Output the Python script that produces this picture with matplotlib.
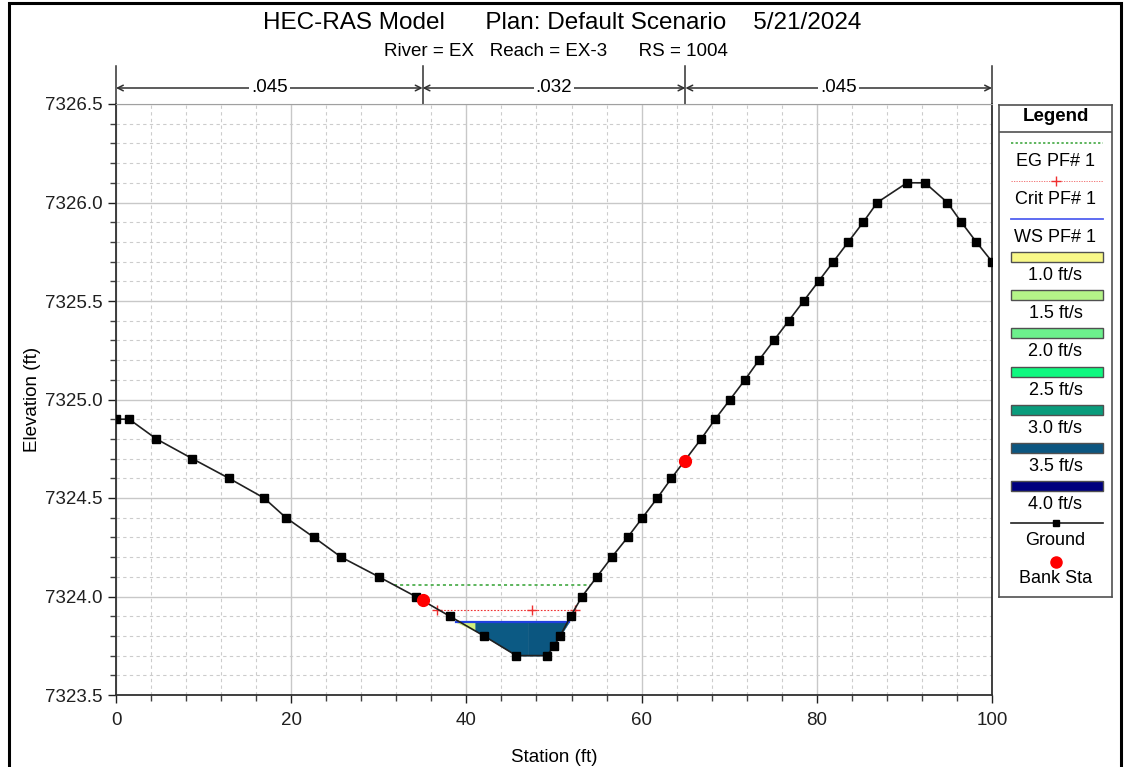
import numpy as np
import matplotlib
matplotlib.use("Agg")
import matplotlib.pyplot as plt
from matplotlib.patches import Rectangle
from matplotlib.ticker import MultipleLocator, FormatStrFormatter
import matplotlib.transforms as mtransforms

plt.rcParams['font.family'] = ['Liberation Sans', 'DejaVu Sans']

# --- data ---
ground_sta = [0, 1.5, 4.6, 8.7, 12.9, 16.9, 19.4, 22.6, 25.7, 30.0, 34.2, 38.1, 42.0,
              45.7, 49.2, 50.0, 50.7, 51.9, 53.2, 54.9, 56.6, 58.4, 60.1, 61.8, 63.4,
              66.8, 68.4, 70.1, 71.8, 73.4, 75.1, 76.8, 78.5, 80.2, 81.9, 83.6, 85.3,
              86.9, 90.3, 92.35, 94.9, 96.5, 98.2, 100.0]
ground_elev = [7324.9, 7324.9, 7324.8, 7324.7, 7324.6, 7324.5, 7324.4, 7324.3, 7324.2,
               7324.1, 7324.0, 7323.9, 7323.8, 7323.7, 7323.7, 7323.75, 7323.8, 7323.9,
               7324.0, 7324.1, 7324.2, 7324.3, 7324.4, 7324.5, 7324.6, 7324.8, 7324.9,
               7325.0, 7325.1, 7325.2, 7325.3, 7325.4, 7325.5, 7325.6, 7325.7, 7325.8,
               7325.9, 7326.0, 7326.1, 7326.1, 7326.0, 7325.9, 7325.8, 7325.7]

bank_sta = [35.0, 65.0]
bank_elev = [7323.98, 7324.69]

ws_elev = 7323.87
ws_extent = [38.8, 51.7]
crit_elev = 7323.93
crit_sta = [36.6, 47.5, 52.4]
eg_elev = 7324.06
eg_extent = [31.7, 54.2]

# velocity slices across the wetted section
vel_breaks = [38.8, 41.0, 47.0, 51.7]
vel_slice_colors = ['#d2f07c', '#0c5a84', '#0b5680']

n_breaks = [0, 35, 65, 100]
n_values = ['.045', '.032', '.045']

legend_vel_labels = ['1.0 ft/s', '1.5 ft/s', '2.0 ft/s', '2.5 ft/s', '3.0 ft/s', '3.5 ft/s', '4.0 ft/s']
legend_vel_colors = ['#f8f888', '#b4f488', '#6cf08c', '#10f880', '#0a9c7c', '#0c5680', '#00007e']

W, H = 1126, 767
fig = plt.figure(figsize=(W / 100, H / 100), dpi=100)
ax = fig.add_axes([116 / W, 1 - 695 / H, (992 - 116) / W, (695 - 104) / H])

gs = np.array(ground_sta)
ge = np.array(ground_elev)

# water fill, slice by slice
for i in range(len(vel_breaks) - 1):
    a, b = vel_breaks[i], vel_breaks[i + 1]
    inner = (gs > a) & (gs < b)
    xs = np.concatenate([[a], gs[inner], [b]])
    ys = np.concatenate([[np.interp(a, gs, ge)], ge[inner], [np.interp(b, gs, ge)]])
    ys = np.minimum(ys, ws_elev)
    ax.fill_between(xs, ys, ws_elev, color=vel_slice_colors[i], lw=0.3, zorder=2)

ax.plot(ws_extent, [ws_elev, ws_elev], color='#2040e0', lw=1.6, zorder=3)
ax.plot(eg_extent, [eg_elev, eg_elev], color='#30a030', lw=1.1, ls=(0, (2, 2)), zorder=3)
ax.plot(crit_sta, [crit_elev] * len(crit_sta), color='#f03030', lw=0.8, ls=(0, (1.5, 1.5)),
        marker='+', ms=7, mew=1, zorder=3)
ax.plot(ground_sta, ground_elev, color='#202020', lw=1.2, marker='s', ms=5.5,
        mfc='black', mec='black', zorder=4)
ax.plot(bank_sta, bank_elev, 'o', color='#ff0000', ms=8.5, zorder=5)

ax.set_xlim(0, 100)
ax.set_ylim(7323.5, 7326.5)
ax.xaxis.set_major_locator(MultipleLocator(20))
ax.xaxis.set_minor_locator(MultipleLocator(4))
ax.yaxis.set_major_locator(MultipleLocator(0.5))
ax.yaxis.set_minor_locator(MultipleLocator(0.1))
ax.yaxis.set_major_formatter(FormatStrFormatter('%.1f'))
ax.grid(True, which='major', color='#c8c8c8', lw=1.0, zorder=0)
ax.grid(True, which='minor', color='#cccccc', lw=0.8, ls=(0, (3, 3)), zorder=0)
ax.set_axisbelow(True)
ax.tick_params(which='major', direction='out', length=6, width=1, labelsize=13.5, colors='#202020')
ax.tick_params(which='minor', direction='out', length=4, width=1, colors='#404040')
ax.tick_params(axis='x', pad=6)
for side in ['left', 'bottom', 'right']:
    ax.spines[side].set_color('#303030')
    ax.spines[side].set_linewidth(1.3)
ax.spines['top'].set_color('#a0a0a0')
ax.set_xlabel('Station (ft)', fontsize=13.5, labelpad=15)
ax.set_ylabel('Elevation (ft)', fontsize=13.5, labelpad=3)

# Manning's n bands above the plot
trans = mtransforms.blended_transform_factory(ax.transData, ax.transAxes)
y_arrow = (695 - 88) / 591
y_top = (695 - 66) / 591
for xb in n_breaks:
    ax.plot([xb, xb], [1.0, y_top], color='#303030', lw=1.1, transform=trans, clip_on=False)
for i, label in enumerate(n_values):
    a, b = n_breaks[i], n_breaks[i + 1]
    ax.annotate('', xy=(a, y_arrow), xytext=(b, y_arrow), xycoords=trans, textcoords=trans,
                arrowprops=dict(arrowstyle='<->', color='#303030', lw=1.1, shrinkA=0, shrinkB=0))
    ax.text((a + b) / 2, y_arrow, label, transform=trans, ha='center', va='center', fontsize=13.5,
            bbox=dict(facecolor='white', edgecolor='none', pad=1.5))

fig.text(562 / W, 1 - 23 / H, 'HEC-RAS Model      Plan: Default Scenario    5/21/2024',
         ha='center', va='center', fontsize=17.5)
fig.text(556 / W, 1 - 52 / H, 'River = EX   Reach = EX-3      RS = 1004',
         ha='center', va='center', fontsize=13.5)

# figure frame
fig.patches.append(Rectangle((9 / W, -0.02), (1121 - 9) / W, 1 - 3 / H + 0.02,
                             transform=fig.transFigure, fill=False, ec='black', lw=2.2))

# legend panel, drawn in pixel units
lx0, lx1, ly0, ly1 = 999, 1112, 105, 597
lax = fig.add_axes([lx0 / W, 1 - ly1 / H, (lx1 - lx0) / W, (ly1 - ly0) / H])
lax.set_xlim(lx0, lx1)
lax.set_ylim(ly1, ly0)
lax.set_xticks([])
lax.set_yticks([])
for s in lax.spines.values():
    s.set_color('#505050')
    s.set_linewidth(1.2)
cx = (lx0 + lx1) / 2
lax.text(cx, 117, 'Legend', ha='center', va='center', fontsize=13.5, fontweight='bold')
lax.plot([lx0, lx1], [132, 132], color='#505050', lw=1.2)
sx0, sx1 = 1011, 1103
fs = 13
lax.plot([sx0, sx1], [143, 143], color='#30a030', lw=1.1, ls=(0, (1.5, 1.5)))
lax.text(cx, 162, 'EG PF# 1', ha='center', va='center', fontsize=fs)
lax.plot([sx0, sx1], [181, 181], color='#f06060', lw=0.6, ls=(0, (1.5, 1.5)))
lax.plot([cx], [181], marker='+', color='#f03030', ms=7, mew=1)
lax.text(cx, 200, 'Crit PF# 1', ha='center', va='center', fontsize=fs)
lax.plot([sx0, sx1], [219, 219], color='#5060f0', lw=1.3)
lax.text(cx, 238, 'WS PF# 1', ha='center', va='center', fontsize=fs)
for i, (lab, col) in enumerate(zip(legend_vel_labels, legend_vel_colors)):
    yc = 257 + i * 38.2
    lax.add_patch(Rectangle((sx0, yc - 5), sx1 - sx0, 10, facecolor=col, edgecolor='#505050', lw=1))
    lax.text(cx, yc + 18.5, lab, ha='center', va='center', fontsize=fs)
lax.plot([sx0, sx1], [523, 523], color='#202020', lw=1.2)
lax.plot([cx], [523], marker='s', color='black', ms=5)
lax.text(cx, 541, 'Ground', ha='center', va='center', fontsize=fs)
lax.plot([cx], [562], marker='o', color='#ff0000', ms=8)
lax.text(cx, 579, 'Bank Sta', ha='center', va='center', fontsize=fs)

fig.savefig('out.png', dpi=100)
